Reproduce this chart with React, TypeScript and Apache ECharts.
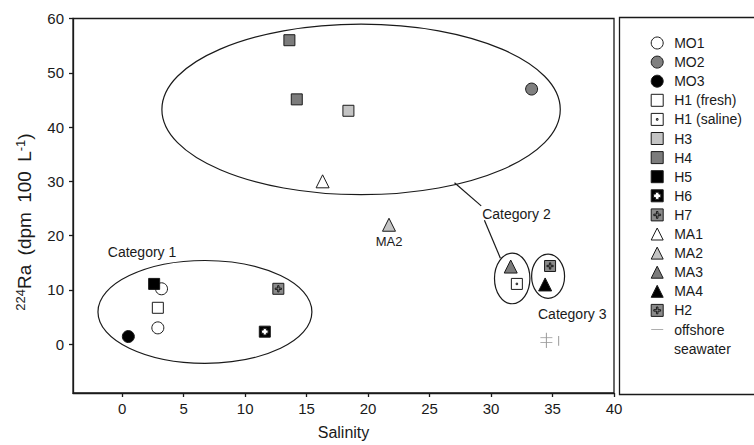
import { useEffect, useRef } from 'react';
import * as echarts from 'echarts';

const FONT = '"Liberation Sans", Arial, Helvetica, sans-serif';
const INK = '#1a1a1a';

// ---- data (salinity, 224Ra dpm/100L) ----
const legendNames = ['MO1', 'MO2', 'MO3', 'H1 (fresh)', 'H1 (saline)', 'H3', 'H4', 'H5', 'H6', 'H7', 'MA1', 'MA2', 'MA3', 'MA4', 'H2', 'offshore seawater'];
const mo1 = [[3.2, 10.2], [2.9, 3.0]];
const mo2 = [[33.3, 47.0]];
const mo3 = [[0.5, 1.4]];
const h1Fresh = [[2.9, 6.7]];
const h1Saline = [[32.1, 11.1]];
const h3 = [[18.4, 43.0]];
const h4 = [[13.6, 56.0], [14.2, 45.1]];
const h5 = [[2.6, 11.1]];
const h6 = [[11.6, 2.3]];
const h7 = [[12.7, 10.2]];
const ma1 = [[16.3, 30.0]];
const ma2 = [[21.7, 22.0]];
const ma3 = [[31.6, 14.3]];
const ma4 = [[34.4, 11.0]];
const h2 = [[34.8, 14.4]];
const offshore = [[34.5, 1.2], [34.5, 0.3]];
const offshoreRange = [[34.5, -0.7, 2.1], [35.5, -0.3, 1.5]]; // x, low, high

const xTicks = [0, 5, 10, 15, 20, 25, 30, 35, 40];
const yTicks = [0, 10, 20, 30, 40, 50, 60];

// annotation ellipses: cx, cy, rx, ry in data units
const ellipses = [
  [6.73, 5.94, 8.7, 9.47],
  [19.43, 43.25, 16.2, 15.71],
  [31.72, 12.1, 1.44, 4.66],
  [34.64, 12.5, 1.34, 4.07],
];
// leader lines: x1, y1, x2, y2
const leaders = [
  [27.03, 29.73, 29.2, 25.47],
  [29.46, 22.84, 30.76, 15.84],
];
const categoryText = ['Category 1', 'Category 2', 'Category 3'];
const categoryPos = [[-1.17, 17.07], [29.28, 23.94], [33.82, 5.61]];

const SQ_DOT = 'path://M0,0H12V12H0Z M5.2,5.2H6.8V6.8H5.2Z';
const SQ_HOLE_PLUS = 'path://M0,0H12V12H0Z M4.3,2.4V4.3H2.4V7.7H4.3V9.6H7.7V7.7H9.6V4.3H7.7V2.4Z';
const SQ_PLUS = 'path://M0,0H12V12H0Z M5.25,2.6H6.75V5.25H9.4V6.75H6.75V9.4H5.25V6.75H2.6V5.25H5.25Z';
const DASH = 'path://M0,0H12V1H0Z';

function sc(name: string, data: number[][], symbol: string, size: number, color: string, extra: any = {}) {
  return {
    type: 'scatter',
    name,
    data,
    symbol,
    symbolSize: size,
    itemStyle: { color, borderColor: INK, borderWidth: 1, opacity: 1 },
    emphasis: { disabled: true },
    z: 3,
    ...extra,
  };
}

export default function App() {
  const ref = useRef<HTMLDivElement>(null);
  useEffect(() => {
    if (!ref.current) return;
    const chart = echarts.init(ref.current, undefined, { renderer: 'svg' });
    const axisCommon = {
      type: 'value',
      axisLine: { show: true, onZero: false, lineStyle: { color: INK, width: 1.3 } },
      splitLine: { show: false },
    };
    const nameMain = { fontFamily: FONT, fontSize: 19, fill: INK, color: INK, verticalAlign: 'bottom', lineHeight: 20 };
    const option: any = {
      animation: false,
      backgroundColor: '#fff',
      grid: { left: 73, right: 140, top: 18.5, bottom: 49.3, show: true, borderColor: INK, borderWidth: 1.3, backgroundColor: 'transparent' },
      xAxis: {
        ...axisCommon,
        min: -4,
        max: 40,
        name: 'Salinity',
        nameLocation: 'middle',
        nameGap: 31,
        nameTextStyle: { fontFamily: FONT, fontSize: 16, color: INK },
        axisTick: { show: true, length: 4, customValues: xTicks, lineStyle: { color: INK, width: 1.3 } },
        axisLabel: { customValues: xTicks, fontFamily: FONT, fontSize: 15, color: INK, margin: 8 },
      },
      yAxis: {
        ...axisCommon,
        min: -9,
        max: 60,
        axisTick: { show: true, length: 4, customValues: yTicks, lineStyle: { color: INK, width: 1.3 } },
        axisLabel: { customValues: yTicks, fontFamily: FONT, fontSize: 15, color: INK, margin: 9 },
      },
      legend: {
        orient: 'vertical',
        left: 650.7,
        top: 36,
        padding: 0,
        itemWidth: 12,
        itemHeight: 12,
        itemGap: 5.1,
        selectedMode: false,
        textStyle: { fontFamily: FONT, fontSize: 14, color: INK, padding: [0, 0, 0, 6], lineHeight: 12 },
        itemStyle: { borderWidth: 1 },
        formatter: (n: string) => (n === 'offshore seawater' ? 'offshore' : n),
        data: legendNames.map((n) =>
          n === 'offshore seawater' ? { name: n, icon: DASH, itemStyle: { borderWidth: 0 } } : { name: n }
        ),
      },
      graphic: [
        {
          type: 'rect',
          shape: { x: 619.5, y: 17.5, width: 160, height: 377 },
          style: { fill: 'none', stroke: INK, lineWidth: 1.3 },
          silent: true,
        },
        {
          type: 'text',
          x: 674,
          y: 348.5,
          silent: true,
          style: { text: 'seawater', fontFamily: FONT, fontSize: 14, fill: INK, align: 'left', verticalAlign: 'middle' },
        },
        {
          type: 'text',
          x: 24,
          y: 222,
          rotation: Math.PI / 2,
          silent: true,
          style: {
            text: '{s|224}{n|Ra}{g| }{n|(dpm}{g| }{n|100}{g| }{n|L}{s|-1}{n|)}',
            align: 'center',
            verticalAlign: 'middle',
            fill: INK,
            rich: {
              s: { fontFamily: FONT, fontSize: 13, fill: INK, color: INK, verticalAlign: 'top', lineHeight: 14, padding: [0, 0, 10, 0] },
              n: nameMain,
              g: { ...nameMain, padding: [0, 2, 0, 2] },
            },
          },
        },
      ],
      series: [
        {
          type: 'custom',
          name: 'ellipses',
          data: ellipses,
          z: 1,
          silent: true,
          renderItem: (_p: any, api: any) => {
            const c = api.coord([api.value(0), api.value(1)]);
            const s = api.size([api.value(2), api.value(3)]);
            return {
              type: 'ellipse',
              shape: { cx: c[0], cy: c[1], rx: s[0], ry: s[1] },
              style: { fill: 'none', stroke: INK, lineWidth: 1.2 },
            };
          },
        },
        {
          type: 'custom',
          name: 'leaders',
          data: leaders,
          z: 1,
          silent: true,
          renderItem: (_p: any, api: any) => {
            const a = api.coord([api.value(0), api.value(1)]);
            const b = api.coord([api.value(2), api.value(3)]);
            return {
              type: 'line',
              shape: { x1: a[0], y1: a[1], x2: b[0], y2: b[1] },
              style: { stroke: INK, lineWidth: 1.2 },
            };
          },
        },
        {
          type: 'custom',
          name: 'categories',
          data: categoryPos,
          z: 2,
          silent: true,
          renderItem: (p: any, api: any) => {
            const c = api.coord([api.value(0), api.value(1)]);
            return {
              type: 'text',
              x: c[0],
              y: c[1],
              style: { text: categoryText[p.dataIndex], fontFamily: FONT, fontSize: 14, fill: INK, align: 'left', verticalAlign: 'middle' },
            };
          },
        },
        {
          type: 'custom',
          name: 'offshoreRange',
          data: offshoreRange,
          z: 2,
          silent: true,
          renderItem: (_p: any, api: any) => {
            const a = api.coord([api.value(0), api.value(1)]);
            const b = api.coord([api.value(0), api.value(2)]);
            return {
              type: 'line',
              shape: { x1: a[0], y1: a[1], x2: b[0], y2: b[1] },
              style: { stroke: '#9a9a9a', lineWidth: 1 },
            };
          },
        },
        sc('MO1', mo1, 'circle', 12, '#ffffff'),
        sc('MO2', mo2, 'circle', 12, '#808080'),
        sc('MO3', mo3, 'circle', 12, '#000000'),
        sc('H1 (fresh)', h1Fresh, 'rect', 11, '#ffffff'),
        sc('H1 (saline)', h1Saline, SQ_DOT, 11, '#ffffff'),
        sc('H3', h3, 'rect', 11, '#c4c4c4'),
        sc('H4', h4, 'rect', 11, '#7c7c7c'),
        sc('H5', h5, 'rect', 11, '#000000'),
        sc('H6', h6, SQ_HOLE_PLUS, 11, '#000000'),
        sc('H7', h7, SQ_PLUS, 11, '#8a8a8a'),
        sc('MA1', ma1, 'triangle', 13, '#ffffff'),
        sc('MA2', ma2, 'triangle', 13, '#c4c4c4', {
          label: { show: true, position: 'bottom', distance: 3, formatter: 'MA2', fontFamily: FONT, fontSize: 13, color: INK },
        }),
        sc('MA3', ma3, 'triangle', 13, '#7c7c7c'),
        sc('MA4', ma4, 'triangle', 13, '#000000'),
        sc('H2', h2, SQ_PLUS, 11, '#8a8a8a'),
        {
          type: 'scatter',
          name: 'offshore seawater',
          data: offshore,
          symbol: DASH,
          symbolSize: [12, 1],
          itemStyle: { color: '#9a9a9a', borderWidth: 0 },
          emphasis: { disabled: true },
          z: 3,
        },
      ],
    };
    chart.setOption(option);
    return () => chart.dispose();
  }, []);
  return <div ref={ref} style={{ position: 'fixed', left: 0, top: 0, width: 754, height: 445, background: '#fff' }} />;
}
